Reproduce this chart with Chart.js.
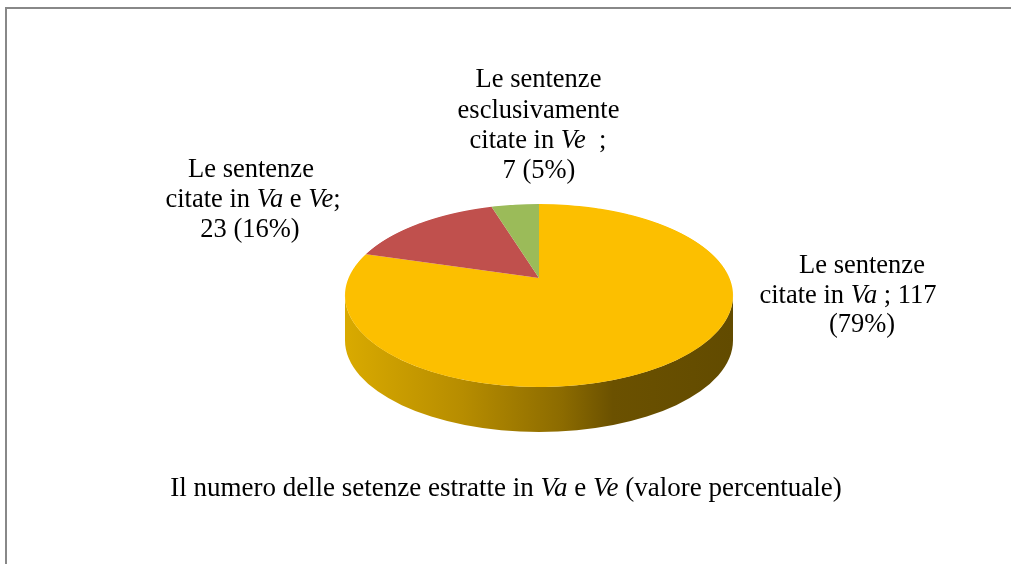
<!DOCTYPE html>
<html>
<head>
<meta charset="utf-8">
<script src="https://cdn.jsdelivr.net/npm/chart.js@4/dist/chart.umd.min.js"></script>
<style>
  html, body { margin: 0; padding: 0; background: #ffffff; overflow: hidden; }
  canvas { display: block; }
</style>
</head>
<body>
<canvas id="c" width="1011" height="564" style="width:1011px;height:564px"></canvas>
<script>
// ---- data ----
const categories = [
  'Le sentenze citate in Va',
  'Le sentenze citate in Va e Ve',
  'Le sentenze esclusivamente citate in Ve'
];
const values = [117, 23, 7];
const percentLabels = ['79%', '16%', '5%'];

// ---- styles ----
const topColors = ['#FCBF00', '#C0504D', '#9BBB59'];
const sideStops = [
  [[0, '#D9AA00'], [0.30, '#B78D00'], [0.56, '#8C6B00'], [0.69, '#6B5100'], [1, '#624B00']],
  [[0, '#8E3533'], [1, '#5E2220']],
  [[0, '#728B40'], [1, '#4E5F2B']]
];
const FONT = '"Liberation Serif", "Times New Roman", serif';
const LABEL_SIZE = 26.5;
const TITLE_SIZE = 27;
// perspective view of the pie: screen measures of the top face
const VIEW = { cx: 539, top: 204, apex: 278, bottom: 387, halfWidth: 194, depth: 45 };

// label text lines: [text, italic]
const labelLines = [
  [ [['Le sentenze', 0]],
    [['citate in ', 0], ['Va', 1], [' ; ' + values[0], 0]],
    [['(' + percentLabels[0] + ')', 0]] ],
  [ [['Le sentenze', 0]],
    [['citate in ', 0], ['Va', 1], [' e ', 0], ['Ve', 1], [';', 0]],
    [[values[1] + ' (' + percentLabels[1] + ')', 0]] ],
  [ [['Le sentenze', 0]],
    [['esclusivamente', 0]],
    [['citate in ', 0], ['Ve', 1], ['  ;', 0]],
    [[values[2] + ' (' + percentLabels[2] + ')', 0]] ]
];
const labelLayout = [
  { x: [862, 848, 862], y: [273, 303, 332] },
  { x: [251, 253, 250], y: [177, 207, 237] },
  { x: [538.5, 538.5, 538, 539], y: [87, 118, 148, 178] }
];
const titleSegments = [
  ['Il numero delle setenze estratte in ', 0], ['Va', 1], [' e ', 0], ['Ve', 1], [' (valore percentuale)', 0]
];
const titleLayout = { x: 506, y: 496 };

function fontFor(it, size) { return (it ? 'italic ' : '') + size + 'px ' + FONT; }
function drawRich(ctx, segs, cx, by, size) {
  let total = 0;
  segs.forEach(s => { ctx.font = fontFor(s[1], size); total += ctx.measureText(s[0]).width; });
  let x = cx - total / 2;
  ctx.textAlign = 'left';
  ctx.textBaseline = 'alphabetic';
  ctx.fillStyle = '#000000';
  segs.forEach(s => {
    ctx.font = fontFor(s[1], size);
    ctx.fillText(s[0], x, by);
    x += ctx.measureText(s[0]).width;
  });
}

// projective parameters derived from VIEW
const up = VIEW.apex - VIEW.top, down = VIEW.bottom - VIEW.apex;
const PA = (down - up) / (down + up);            // foreshortening factor
const PB = up * (1 + PA);                       // vertical scale
const PX = VIEW.halfWidth * Math.sqrt(1 - PA * PA); // horizontal scale
const EL = { cy: (VIEW.top + VIEW.bottom) / 2, ry: (VIEW.bottom - VIEW.top) / 2, rx: VIEW.halfWidth };
function proj(u, v) {
  const w = 1 / (1 - PA * v);
  return { x: VIEW.cx + PX * u * w, y: VIEW.apex + PB * v * w };
}
function vOfY(Y) { const t = Y - VIEW.apex; return t / (PB + PA * t); }

const framePlugin = {
  id: 'frame',
  beforeDraw(chart) {
    const ctx = chart.ctx;
    ctx.save();
    ctx.fillStyle = '#ffffff';
    ctx.fillRect(0, 0, chart.width, chart.height);
    ctx.fillStyle = '#888888';
    ctx.fillRect(5, 7, chart.width - 5, 2);
    ctx.fillRect(5, 7, 2, chart.height - 7);
    ctx.restore();
  }
};

const pie3d = {
  id: 'pie3d',
  beforeDatasetsDraw(chart) {
    const ctx = chart.ctx;
    const arcs = chart.getDatasetMeta(0).data;
    const p0 = arcs[0].getProps(['x', 'y', 'outerRadius'], true);
    const R = p0.outerRadius;
    // extruded side: only the front, between the silhouette points
    const fLo = Math.asin(PA), fHi = Math.PI - Math.asin(PA);
    arcs.forEach((arc, i) => {
      const p = arc.getProps(['startAngle', 'endAngle'], true);
      [0, 2 * Math.PI, -2 * Math.PI].forEach(shift => {
        const lo = Math.max(p.startAngle + shift, fLo), hi = Math.min(p.endAngle + shift, fHi);
        if (hi <= lo) return;
        const a = proj(Math.cos(lo), Math.sin(lo)), b = proj(Math.cos(hi), Math.sin(hi));
        const psiLo = Math.atan2((a.y - EL.cy) / EL.ry, (a.x - VIEW.cx) / EL.rx);
        const psiHi = Math.atan2((b.y - EL.cy) / EL.ry, (b.x - VIEW.cx) / EL.rx);
        const g = ctx.createLinearGradient(VIEW.cx - EL.rx, 0, VIEW.cx + EL.rx, 0);
        sideStops[i].forEach(s => g.addColorStop(s[0], s[1]));
        ctx.save();
        ctx.fillStyle = g;
        ctx.beginPath();
        ctx.ellipse(VIEW.cx, EL.cy, EL.rx, EL.ry, 0, psiLo, psiHi, false);
        ctx.ellipse(VIEW.cx, EL.cy + VIEW.depth, EL.rx, EL.ry, 0, psiHi, psiLo, true);
        ctx.closePath();
        ctx.fill();
        ctx.restore();
      });
    });
    // top face in perspective: thin horizontal strips, each a local affine map
    for (let Y = VIEW.top - 3; Y < VIEW.bottom + 3; Y++) {
      const vm = vOfY(Y + 0.5);
      const w = 1 / (1 - PA * vm);
      const sx = PX * w / R;
      const sy = PB * w * w / R;
      const ym = VIEW.apex + PB * vm * w;
      ctx.save();
      ctx.beginPath();
      ctx.rect(0, Y, chart.width, 1);
      ctx.clip();
      ctx.translate(VIEW.cx, ym);
      ctx.scale(sx, sy);
      ctx.translate(-p0.x, -(p0.y + vm * R));
      arcs.forEach(arc => arc.draw(ctx));
      ctx.restore();
    }
    return false;
  },
  afterDraw(chart) {
    const ctx = chart.ctx;
    ctx.save();
    labelLines.forEach((lines, i) => {
      lines.forEach((segs, j) => {
        drawRich(ctx, segs, labelLayout[i].x[j], labelLayout[i].y[j], LABEL_SIZE);
      });
    });
    drawRich(ctx, titleSegments, titleLayout.x, titleLayout.y, TITLE_SIZE);
    ctx.restore();
  }
};

new Chart(document.getElementById('c'), {
  type: 'pie',
  data: {
    labels: categories,
    datasets: [{
      data: values,
      backgroundColor: topColors,
      borderWidth: 0,
      hoverOffset: 0
    }]
  },
  options: {
    responsive: false,
    animation: false,
    events: [],
    layout: { padding: { left: 344, right: 277, top: 87, bottom: 87 } },
    plugins: {
      legend: { display: false },
      tooltip: { enabled: false },
      title: { display: false }
    }
  },
  plugins: [framePlugin, pie3d]
});
</script>
</body>
</html>
